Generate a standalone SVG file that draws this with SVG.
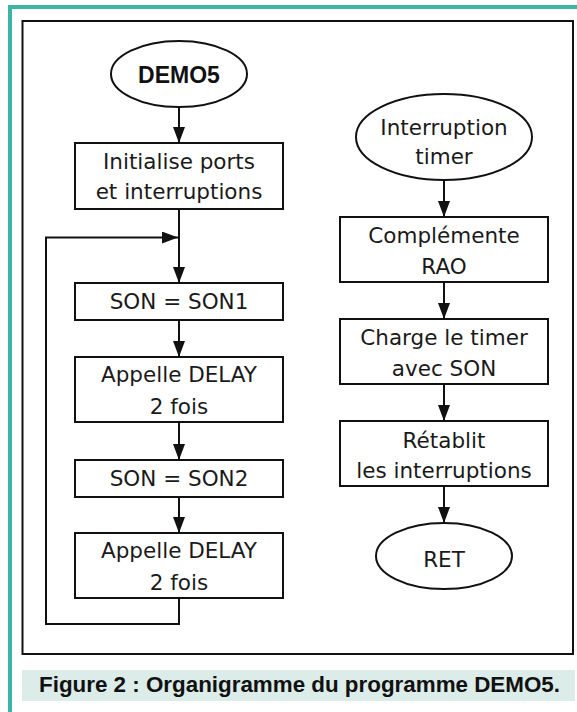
<svg xmlns="http://www.w3.org/2000/svg" width="577" height="712" viewBox="0 0 577 712">
<defs>
<marker id="ah" markerWidth="16" markerHeight="12" refX="16" refY="6" orient="auto" markerUnits="userSpaceOnUse" viewBox="0 0 16 12">
<path d="M0,0 L16,6 L0,12 Z" fill="#111"/>
</marker>
<style>
.box{fill:#fff;stroke:#111;stroke-width:2}
.t{font-family:"DejaVu Sans",sans-serif;font-size:21.5px;fill:#1a1a1a;text-anchor:middle}
.b{font-family:"Liberation Sans",Arial,sans-serif;font-weight:bold;font-size:23px;fill:#111;text-anchor:middle}
.c{fill:none;stroke:#111;stroke-width:2}
</style>
</defs>
<rect x="0" y="0" width="577" height="712" fill="#fff"/>
<path d="M10,712 V7 H577" fill="none" stroke="#3cb5a5" stroke-width="4"/>
<rect x="22.5" y="21" width="550.5" height="633" fill="#fff" stroke="#111" stroke-width="2"/>
<rect x="22" y="670" width="553" height="31" fill="#dcece8"/>
<text x="39" y="692" font-family="Liberation Sans, Arial, sans-serif" font-weight="bold" font-size="22" fill="#111" textLength="521" lengthAdjust="spacingAndGlyphs">Figure 2 : Organigramme du programme DEMO5.</text>

<g id="connectors">
<line class="c" x1="179" y1="107" x2="179" y2="143" marker-end="url(#ah)"/>
<line class="c" x1="179" y1="209" x2="179" y2="283" marker-end="url(#ah)"/>
<line class="c" x1="179" y1="320" x2="179" y2="357" marker-end="url(#ah)"/>
<line class="c" x1="179" y1="422" x2="179" y2="460" marker-end="url(#ah)"/>
<line class="c" x1="179" y1="497" x2="179" y2="533" marker-end="url(#ah)"/>
<polyline class="c" points="179,598 179,624 46,624 46,237.5 178,237.5" marker-end="url(#ah)"/>
<line class="c" x1="444" y1="180" x2="444" y2="217" marker-end="url(#ah)"/>
<line class="c" x1="444" y1="282" x2="444" y2="319" marker-end="url(#ah)"/>
<line class="c" x1="444" y1="384" x2="444" y2="421" marker-end="url(#ah)"/>
<line class="c" x1="444" y1="486" x2="444" y2="523" marker-end="url(#ah)"/>
</g>

<g id="demo5">
<ellipse class="box" cx="179" cy="74" rx="68" ry="33"/>
<text class="b" x="179" y="83">DEMO5</text>
</g>
<g id="init">
<rect class="box" x="75" y="143" width="208" height="66"/>
<text class="t" x="179" y="169">Initialise ports</text>
<text class="t" x="179" y="199">et interruptions</text>
</g>
<g id="son1">
<rect class="box" x="75" y="283" width="208" height="37"/>
<text class="t" x="179" y="309">SON = SON1</text>
</g>
<g id="delay1">
<rect class="box" x="75" y="357" width="208" height="65"/>
<text class="t" x="179" y="382">Appelle DELAY</text>
<text class="t" x="179" y="414">2 fois</text>
</g>
<g id="son2">
<rect class="box" x="75" y="460" width="208" height="37"/>
<text class="t" x="179" y="486">SON = SON2</text>
</g>
<g id="delay2">
<rect class="box" x="75" y="533" width="208" height="65"/>
<text class="t" x="179" y="558">Appelle DELAY</text>
<text class="t" x="179" y="590">2 fois</text>
</g>

<g id="irq">
<ellipse class="box" cx="444" cy="137" rx="88" ry="43"/>
<text class="t" x="444" y="135">Interruption</text>
<text class="t" x="444" y="164">timer</text>
</g>
<g id="compl">
<rect class="box" x="340" y="217" width="208" height="65"/>
<text class="t" x="444" y="243">Complémente</text>
<text class="t" x="444" y="274">RAO</text>
</g>
<g id="charge">
<rect class="box" x="340" y="319" width="208" height="65"/>
<text class="t" x="444" y="345">Charge le timer</text>
<text class="t" x="444" y="376">avec SON</text>
</g>
<g id="retab">
<rect class="box" x="340" y="421" width="208" height="65"/>
<text class="t" x="444" y="448">Rétablit</text>
<text class="t" x="444" y="478">les interruptions</text>
</g>
<g id="ret">
<ellipse class="box" cx="444" cy="556" rx="68" ry="33"/>
<text class="t" x="444" y="567">RET</text>
</g>
</svg>
